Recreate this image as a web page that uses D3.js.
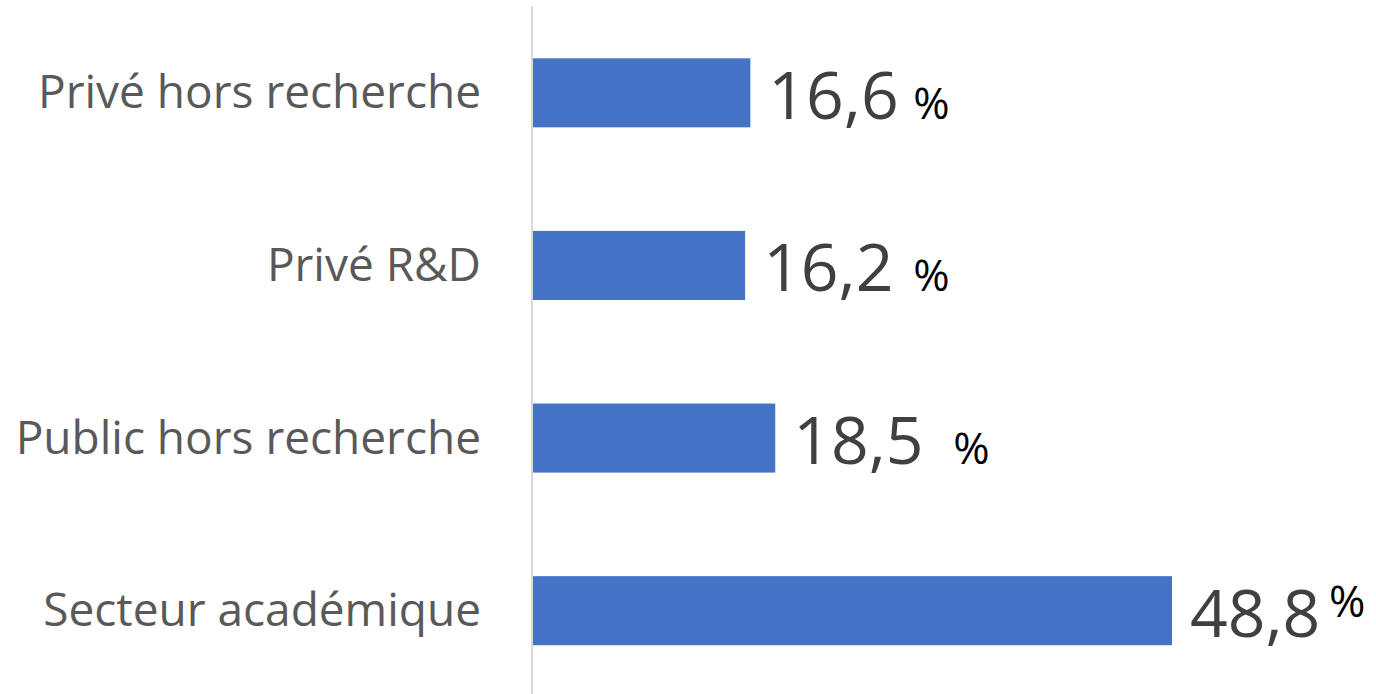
<!DOCTYPE html>
<html>
<head>
<meta charset="utf-8">
<script src="https://cdn.jsdelivr.net/npm/d3@7"></script>
<style>
  body { margin: 0; background: #fff; }
  svg { display: block; }
  .cat-label { font-family: "Open Sans", sans-serif; font-size: 46px; fill: #595959; }
  .val-label { font-family: "Open Sans", sans-serif; font-size: 66px; fill: #404040; }
  .pct-label { font-family: "Open Sans", sans-serif; font-size: 44px; fill: #000; }
</style>
</head>
<body>
<div id="chart"></div>
<script>
var categories = ["Privé hors recherche", "Privé R&D", "Public hors recherche", "Secteur académique"]
var values = [16.6, 16.2, 18.5, 48.8]
var valueLabels = ["16,6", "16,2", "18,5", "48,8"]

// where the "%" sits relative to the value label start, and its baseline shift
var pctDx = [145, 150, 160, 139]
var pctDy = [26, 26, 26, 6]

var width = 1376
var height = 694
var axisX = 532

var svg = d3.select("#chart").append("svg")
  .attr("width", width)
  .attr("height", height)

var xScale = d3.scaleLinear()
  .domain([0, d3.max(values)])
  .range([axisX + 1, 1172])

var yScale = d3.scaleBand()
  .domain(categories)
  .range([6.5, 697])
  .paddingInner(0.6)
  .paddingOuter(0.3)

function barMid(i) {
  return yScale(categories[i]) + yScale.bandwidth() / 2
}

/* bars */
svg.selectAll("rect.bar")
  .data(values)
  .enter()
  .append("rect")
  .attr("class", "bar")
  .attr("x", xScale(0))
  .attr("y", function(d, i) { return yScale(categories[i]) })
  .attr("width", function(d) { return xScale(d) - xScale(0) })
  .attr("height", yScale.bandwidth())
  .attr("fill", "#4472C4")

/* vertical axis line */
svg.append("line")
  .attr("x1", axisX)
  .attr("x2", axisX)
  .attr("y1", 6)
  .attr("y2", height)
  .attr("stroke", "#d9d9d9")
  .attr("stroke-width", 2)

/* category labels */
svg.selectAll("text.cat-label")
  .data(categories)
  .enter()
  .append("text")
  .attr("class", "cat-label")
  .attr("text-anchor", "end")
  .attr("x", 481)
  .attr("y", function(d, i) { return barMid(i) + 15.5 })
  .text(function(d) { return d })

/* value labels */
svg.selectAll("text.val-label")
  .data(values)
  .enter()
  .append("text")
  .attr("class", "val-label")
  .attr("x", function(d) { return xScale(d) + 18 })
  .attr("y", function(d, i) { return barMid(i) + 26 })
  .text(function(d, i) { return valueLabels[i] })

svg.selectAll("text.pct-label")
  .data(values)
  .enter()
  .append("text")
  .attr("class", "pct-label")
  .attr("x", function(d, i) { return xScale(d) + 18 + pctDx[i] })
  .attr("y", function(d, i) { return barMid(i) + pctDy[i] })
  .text("%")
</script>
</body>
</html>
